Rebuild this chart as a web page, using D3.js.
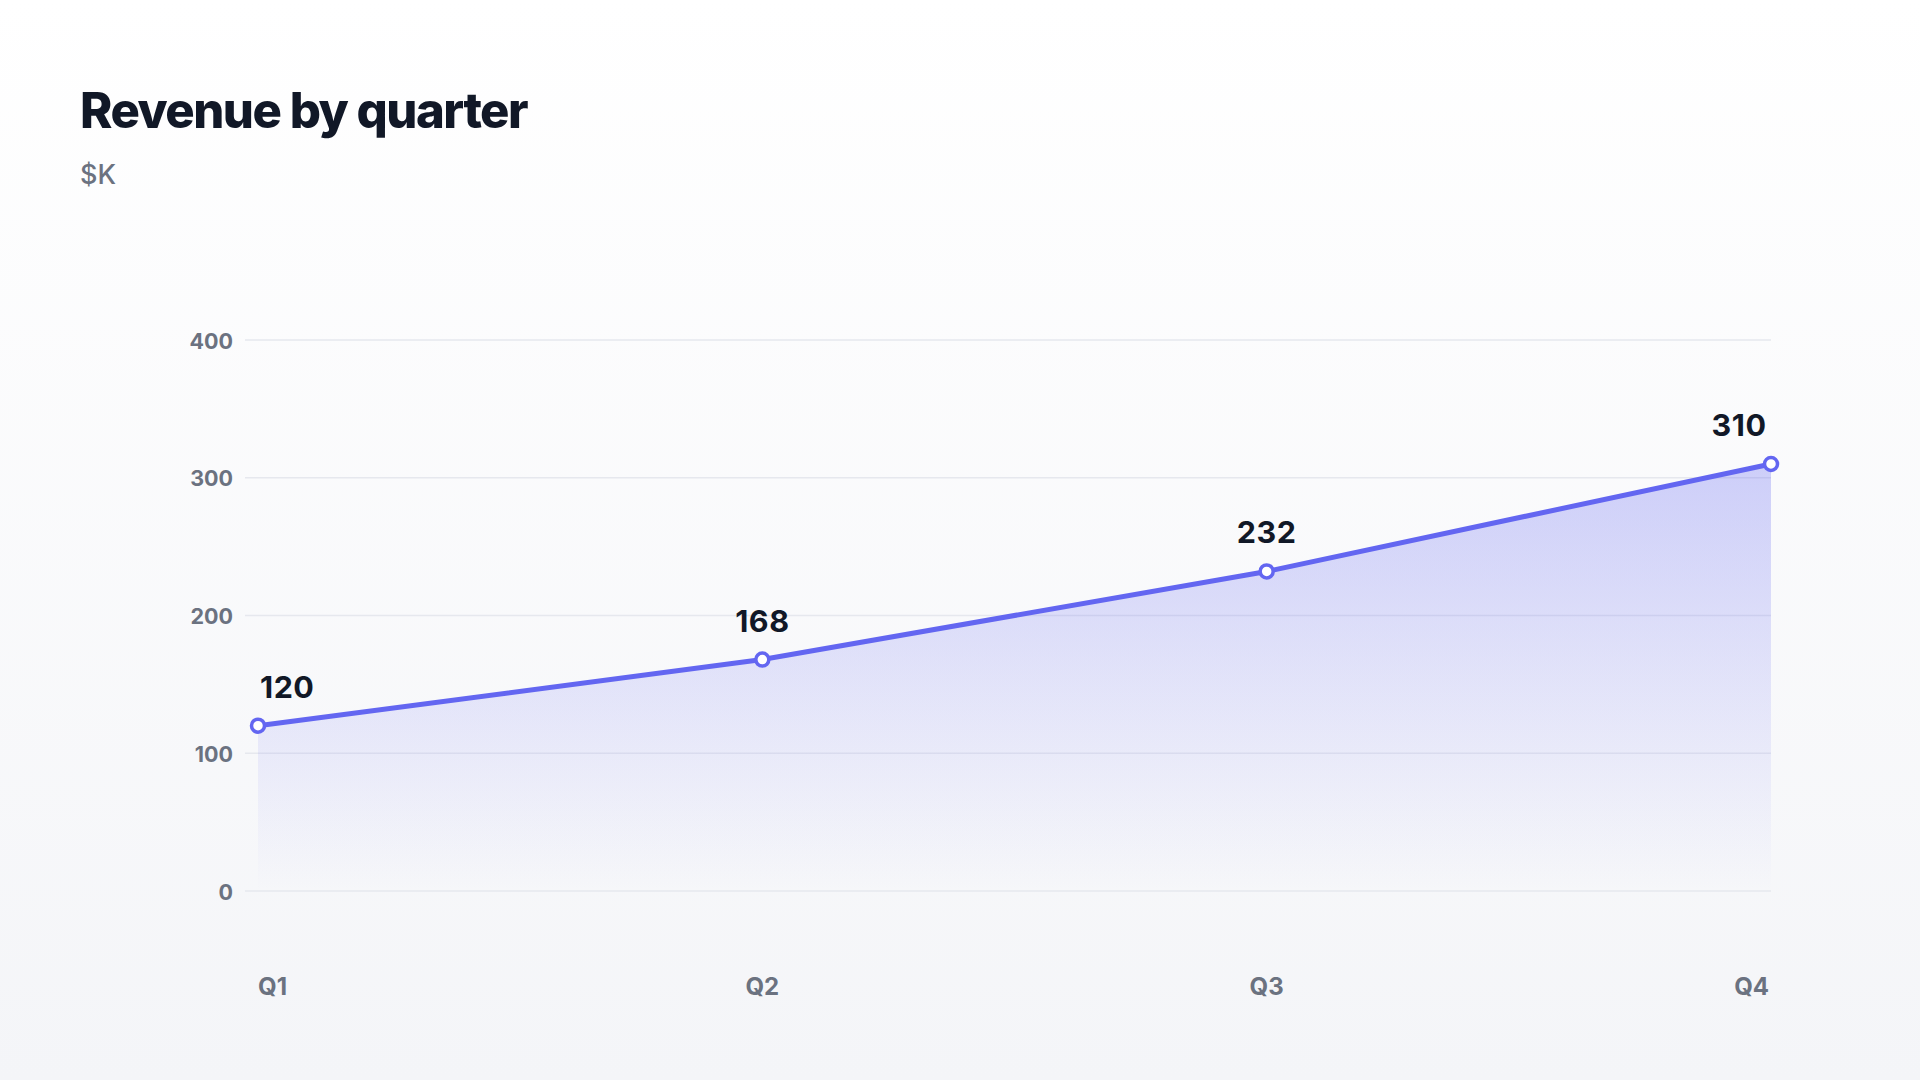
<!DOCTYPE html>
<html>
<head>
<meta charset="utf-8">
<script src="https://cdn.jsdelivr.net/npm/d3@7"></script>
<style>
  html, body { margin: 0; padding: 0; }
  body { width: 1920px; height: 1080px; overflow: hidden; font-family: Inter, "Noto Sans", sans-serif; }
</style>
</head>
<body>
<svg id="chart" width="1920" height="1080"></svg>
<script>
// data
var quarters = ["Q1", "Q2", "Q3", "Q4"]
var revenue = [120, 168, 232, 310]
var yTicks = [0, 100, 200, 300, 400]

var svg = d3.select("#chart")
var defs = svg.append("defs")

var bg = defs.append("linearGradient").attr("id", "bg").attr("x1", 0).attr("y1", 0).attr("x2", 0).attr("y2", 1)
bg.append("stop").attr("offset", "0%").attr("stop-color", "#ffffff")
bg.append("stop").attr("offset", "100%").attr("stop-color", "#f4f5f8")

var fill = defs.append("linearGradient").attr("id", "fill").attr("x1", 0).attr("y1", 0).attr("x2", 0).attr("y2", 1)
fill.append("stop").attr("offset", "0%").attr("stop-color", "#6366f1").attr("stop-opacity", 0.3)
fill.append("stop").attr("offset", "100%").attr("stop-color", "#6366f1").attr("stop-opacity", 0.0)

svg.append("rect").attr("width", 1920).attr("height", 1080).attr("fill", "url(#bg)")

svg.append("text").attr("x", 80).attr("y", 128)
  .attr("font-size", 49).attr("font-weight", 800).attr("fill", "#111827")
  .attr("letter-spacing", "-1.5px").text("Revenue by quarter")
svg.append("text").attr("x", 80).attr("y", 184)
  .attr("font-size", 27).attr("font-weight", 500).attr("fill", "#6b7280").text("$K")

var x = d3.scalePoint().domain(quarters).range([258, 1771])
var y = d3.scaleLinear().domain([0, 400]).range([891, 340])

// grid
svg.append("g").selectAll("line").data(yTicks).join("line")
  .attr("x1", 245).attr("x2", 1771)
  .attr("y1", d => y(d)).attr("y2", d => y(d))
  .attr("stroke", "#e6e8ee").attr("stroke-width", 1.5)

svg.append("g").selectAll("text").data(yTicks).join("text")
  .attr("x", 233).attr("y", d => y(d) + 1).attr("dy", "0.35em")
  .attr("text-anchor", "end").attr("font-size", 21.5).attr("font-weight", 700)
  .attr("fill", "#6b7280").text(d => d)

svg.append("g").selectAll("text").data(quarters).join("text")
  .attr("x", (d, i) => x(d) + (i == quarters.length - 1 ? -2 : 0)).attr("y", 995)
  .attr("text-anchor", (d, i) => i == 0 ? "start" : (i == quarters.length - 1 ? "end" : "middle"))
  .attr("font-size", 24).attr("font-weight", 700).attr("fill", "#6b7280").text(d => d)

var pts = quarters.map((q, i) => [q, revenue[i]])

svg.append("path").datum(pts)
  .attr("d", d3.area().x(d => x(d[0])).y0(y(0)).y1(d => y(d[1])))
  .attr("fill", "url(#fill)")

svg.append("path").datum(pts)
  .attr("d", d3.line().x(d => x(d[0])).y(d => y(d[1])))
  .attr("fill", "none").attr("stroke", "#6366f1").attr("stroke-width", 5)
  .attr("stroke-linejoin", "round")

svg.append("g").selectAll("circle").data(pts).join("circle")
  .attr("cx", d => x(d[0])).attr("cy", d => y(d[1])).attr("r", 6.5)
  .attr("fill", "#ffffff").attr("stroke", "#6366f1").attr("stroke-width", 3.5)

svg.append("g").selectAll("text").data(pts).join("text")
  .attr("x", (d, i) => x(d[0]) + (i == 0 ? 2 : (i == pts.length - 1 ? -32 : 0)))
  .attr("y", d => y(d[1]) - 28)
  .attr("text-anchor", (d, i) => i == 0 ? "start" : "middle")
  .attr("font-size", 30.5).attr("font-weight", 700).attr("letter-spacing", "0.5px")
  .attr("fill", "#111827").text(d => d[1])
</script>
</body>
</html>
